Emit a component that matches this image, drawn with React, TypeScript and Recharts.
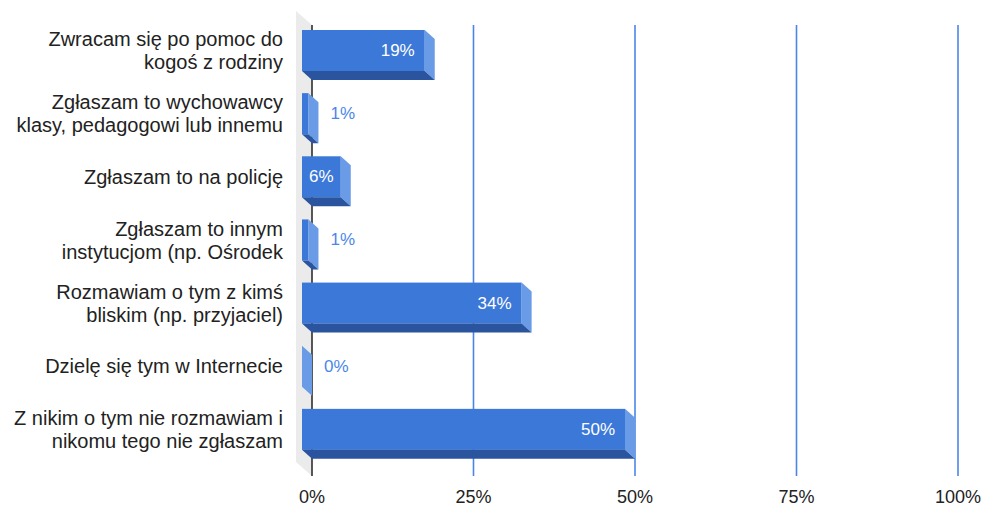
import { BarChart, Bar, XAxis, YAxis, CartesianGrid } from "recharts";

const categories = [
  "Zwracam się po pomoc do\nkogoś z rodziny",
  "Zgłaszam to wychowawcy\nklasy, pedagogowi lub innemu",
  "Zgłaszam to na policję",
  "Zgłaszam to innym\ninstytucjom (np. Ośrodek",
  "Rozmawiam o tym z kimś\nbliskim (np. przyjaciel)",
  "Dzielę się tym w Internecie",
  "Z nikim o tym nie rozmawiam i\nnikomu tego nie zgłaszam",
];
const values = [19, 1, 6, 1, 34, 0, 50];
const xTicks = [0, 25, 50, 75, 100];

const FONT = '"Liberation Sans", Arial, sans-serif';
const FRONT = "#3c78d8";
const SIDE = "#6a9be6";
const BOTTOM = "#2a559e";
const GRID = "#4a86e8";
const DX = 10;
const DY = 9;

const data = categories.map((name, i) => ({ name, value: values[i] }));

function Bar3D(props: any) {
  const { x, y, height, value } = props;
  const w = Math.max(props.width || 0, 0);
  const fx = x - DX;
  const fy = y - DY;
  const label = `${value}%`;
  const digits = String(value).length;
  const textW = 17 * (0.556 * digits + 0.889);
  const inside = w >= textW + 8;
  const lx = inside ? fx + w - Math.min(10, (w - textW) / 2) : x + w + 12;
  return (
    <g>
      <rect x={fx} y={fy} width={w} height={height} fill={FRONT} />
      <polygon
        points={`${fx + w},${fy} ${x + w},${y} ${x + w},${y + height} ${fx + w},${fy + height}`}
        fill={SIDE}
      />
      <polygon
        points={`${fx},${fy + height} ${fx + w},${fy + height} ${x + w},${y + height} ${x},${y + height}`}
        fill={BOTTOM}
      />
      <text
        x={lx}
        y={fy + height / 2}
        dominantBaseline="central"
        textAnchor={inside ? "end" : "start"}
        fill={inside ? "#ffffff" : GRID}
        fontSize={17}
        fontFamily={FONT}
      >
        {label}
      </text>
    </g>
  );
}

function YTick(props: any) {
  const { x, y, payload } = props;
  const lines = String(payload.value).split("\n");
  const cy = y - DY;
  const lh = 23;
  const start = cy - ((lines.length - 1) * lh) / 2 + 7;
  return (
    <text x={x - 29} textAnchor="end" fontSize={20} fontFamily={FONT} fill="#222222">
      {lines.map((line, i) => (
        <tspan key={i} x={x - 29} y={start + i * lh}>
          {line}
        </tspan>
      ))}
    </text>
  );
}

function XTick(props: any) {
  const { x, y, payload } = props;
  return (
    <text x={x} y={y + 33} textAnchor="middle" fontSize={18} fontFamily={FONT} fill="#222222">
      {payload.value}%
    </text>
  );
}

function GridLine(p: any) {
  if (p.index === 0) {
    return (
      <g key={p.key}>
        <polygon
          points={`${p.x1 - 16},${p.y1 - 17} ${p.x1},${p.y1 - 3} ${p.x1},${p.y2 + 6} ${p.x1 - 16},${p.y2 - 8}`}
          fill="#ebebeb"
        />
        <line x1={p.x1} x2={p.x1} y1={p.y1 - 3} y2={p.y2 + 6} stroke="#222222" strokeWidth={1.5} />
      </g>
    );
  }
  return <line key={p.key} x1={p.x1} x2={p.x2} y1={p.y1 - 3} y2={p.y2 + 6} stroke={GRID} strokeWidth={1.6} />;
}

export default function App() {
  return (
    <div style={{ position: "absolute", left: 0, top: 0, background: "#fff" }}>
      <BarChart
        width={986}
        height={506}
        data={data}
        layout="vertical"
        margin={{ top: 28, right: 28, bottom: 0, left: 0 }}
        barSize={41}
      >
        <CartesianGrid horizontal={false} vertical={GridLine} />
        <XAxis
          type="number"
          domain={[0, 100]}
          ticks={xTicks}
          interval={0}
          axisLine={false}
          tickLine={false}
          tickSize={0}
          tickMargin={0}
          height={36}
          tick={XTick}
        />
        <YAxis
          type="category"
          dataKey="name"
          width={312}
          interval={0}
          axisLine={false}
          tickLine={false}
          tickSize={0}
          tickMargin={0}
          tick={YTick}
        />
        <Bar dataKey="value" shape={Bar3D} isAnimationActive={false} />
      </BarChart>
    </div>
  );
}
